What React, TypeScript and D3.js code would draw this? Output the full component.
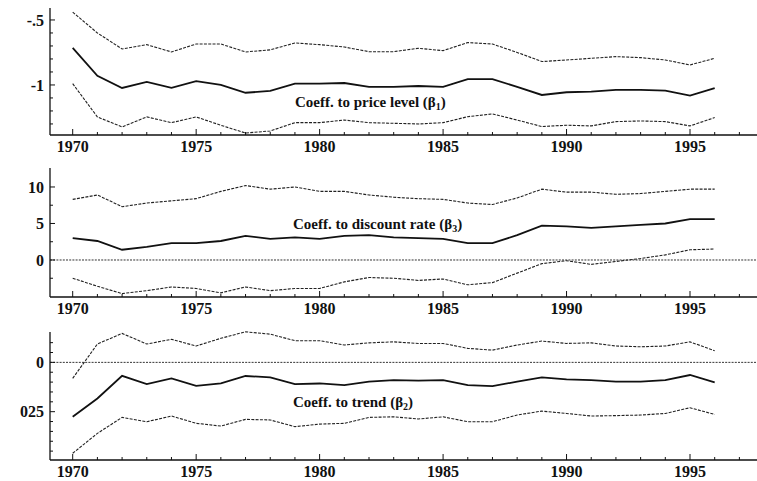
import React from "react";
import * as d3 from "d3";

const years = d3.range(1970, 1997);

const priceMid = [-0.715, -0.93, -1.023, -0.977, -1.023, -0.97, -1.0, -1.06, -1.046, -0.99, -0.99, -0.985, -1.015, -1.015, -1.008, -1.015, -0.955, -0.955, -1.015, -1.077, -1.056, -1.051, -1.038, -1.038, -1.044, -1.082, -1.025];
const priceUp = [-0.44, -0.6, -0.723, -0.69, -0.746, -0.685, -0.685, -0.746, -0.73, -0.677, -0.69, -0.708, -0.744, -0.744, -0.718, -0.736, -0.674, -0.685, -0.75, -0.82, -0.808, -0.795, -0.782, -0.79, -0.808, -0.846, -0.795];
const priceLo = [-0.99, -1.246, -1.323, -1.246, -1.29, -1.246, -1.31, -1.37, -1.354, -1.29, -1.29, -1.27, -1.29, -1.295, -1.3, -1.29, -1.244, -1.223, -1.27, -1.32, -1.31, -1.315, -1.282, -1.277, -1.282, -1.315, -1.251];

const discMid = [3.0, 2.6, 1.4, 1.8, 2.3, 2.3, 2.6, 3.3, 2.9, 3.1, 2.9, 3.3, 3.4, 3.1, 3.0, 2.9, 2.3, 2.3, 3.4, 4.7, 4.6, 4.4, 4.6, 4.8, 5.0, 5.6, 5.6];
const discUp = [8.3, 8.9, 7.3, 7.8, 8.1, 8.4, 9.4, 10.2, 9.7, 10.0, 9.4, 9.4, 8.9, 8.6, 8.4, 8.3, 7.8, 7.6, 8.5, 9.7, 9.3, 9.3, 9.0, 9.1, 9.4, 9.7, 9.7];
const discLo = [-2.5, -3.6, -4.6, -4.2, -3.7, -3.9, -4.5, -3.7, -4.2, -3.9, -3.9, -3.0, -2.4, -2.5, -2.8, -2.6, -3.4, -3.1, -1.8, -0.5, -0.1, -0.6, -0.2, 0.2, 0.7, 1.4, 1.5];

const trendMid = [-0.0276, -0.0183, -0.0068, -0.011, -0.0081, -0.0119, -0.0107, -0.0069, -0.0076, -0.011, -0.0107, -0.0115, -0.0098, -0.009, -0.0093, -0.009, -0.0115, -0.012, -0.0098, -0.0076, -0.0086, -0.009, -0.0098, -0.0098, -0.009, -0.0064, -0.0101];
const trendUp = [-0.0081, 0.0093, 0.0147, 0.0093, 0.0117, 0.0083, 0.0122, 0.0155, 0.0143, 0.011, 0.011, 0.0088, 0.0099, 0.0104, 0.0096, 0.0096, 0.0071, 0.0062, 0.0088, 0.0108, 0.0096, 0.0099, 0.0083, 0.0079, 0.0083, 0.0104, 0.0059];
const trendLo = [-0.0461, -0.036, -0.0279, -0.0301, -0.0272, -0.0309, -0.0323, -0.0289, -0.0292, -0.0326, -0.0313, -0.0309, -0.0279, -0.0276, -0.0287, -0.0276, -0.0301, -0.0301, -0.0267, -0.0247, -0.0259, -0.0272, -0.027, -0.0267, -0.0259, -0.023, -0.0264];

const xTickYears = d3.range(1970, 1998);
const xLabelYears = [1970, 1975, 1980, 1985, 1990, 1995];

const priceTicks = d3.range(-0.5, -1.35, -0.1);
const priceLabels = [{ v: -0.5, t: "-.5" }, { v: -1, t: "-1" }];
const discTicks = [-2.5, 0, 2.5, 5, 7.5, 10];
const discLabels = [{ v: 0, t: "0" }, { v: 5, t: "5" }, { v: 10, t: "10" }];
const trendTicks = d3.range(0.01, -0.0451, -0.005);
const trendLabels = [{ v: 0, t: "0" }, { v: -0.025, t: "025" }];

const FONT = "'Liberation Serif', 'Times New Roman', serif";

const x = d3.scaleLinear().domain([1970, 1995]).range([72.7, 690]);
const LEFT = 50;
const RIGHT = 757;

type PanelProps = {
  top: number;
  bottom: number;
  domain: [number, number];
  mid: number[];
  up: number[];
  lo: number[];
  yTicks: number[];
  yLabels: { v: number; t: string }[];
  zero: boolean;
  label: string;
  sub: string;
  labelX: number;
  labelY: number;
};

function Panel(p: PanelProps) {
  const y = d3.scaleLinear().domain(p.domain).range([p.bottom, p.top]);
  const line = (vals: number[]) =>
    d3.line<number>().x((_, i) => x(years[i])).y((d) => y(d))(vals) || "";
  return (
    <g>
      {p.zero && (
        <line x1={LEFT} x2={RIGHT} y1={y(0)} y2={y(0)} stroke="#333" strokeWidth={1} strokeDasharray="2,1.2" />
      )}
      <path d={line(p.up)} fill="none" stroke="#222" strokeWidth={1.1} strokeDasharray="3,1.3" />
      <path d={line(p.lo)} fill="none" stroke="#222" strokeWidth={1.1} strokeDasharray="3,1.3" />
      <path d={line(p.mid)} fill="none" stroke="#111" strokeWidth={1.8} />
      <line x1={LEFT} x2={LEFT} y1={p.top} y2={p.bottom} stroke="#111" strokeWidth={1.3} />
      <line x1={LEFT} x2={RIGHT} y1={p.bottom} y2={p.bottom} stroke="#111" strokeWidth={1.3} />
      {p.yTicks.map((v, i) => {
        const major = p.yLabels.some((l) => Math.abs(l.v - v) < 1e-9);
        return <line key={i} x1={LEFT} x2={LEFT + (major ? 5 : 3)} y1={y(v)} y2={y(v)} stroke="#111" strokeWidth={1} />;
      })}
      {p.yLabels.map((l, i) => (
        <text key={i} x={44} y={y(l.v)} dy="0.35em" textAnchor="end" fontFamily={FONT} fontSize={16} fontWeight="bold" fill="#111">
          {l.t}
        </text>
      ))}
      {xTickYears.map((yr) => {
        const major = yr % 5 === 0;
        return <line key={yr} x1={x(yr)} x2={x(yr)} y1={p.bottom} y2={p.bottom - (major ? 6 : 3)} stroke="#111" strokeWidth={1} />;
      })}
      {xLabelYears.map((yr) => (
        <text key={yr} x={x(yr)} y={p.bottom + 17} textAnchor="middle" fontFamily={FONT} fontSize={16} fontWeight="bold" fill="#111">
          {yr}
        </text>
      ))}
      <text x={p.labelX} y={p.labelY} fontFamily={FONT} fontSize={15} fontWeight="bold" fill="#111">
        {p.label}
        <tspan>(β</tspan>
        <tspan fontSize={10} dy={3}>{p.sub}</tspan>
        <tspan dy={-3}>)</tspan>
      </text>
    </g>
  );
}

export default function App() {
  return (
    <div style={{ position: "absolute", left: 0, top: 0 }}>
      <svg width={757} height={481} style={{ display: "block", background: "#fff" }}>
        <Panel top={8} bottom={135} domain={[-1.385, -0.408]} mid={priceMid} up={priceUp} lo={priceLo}
          yTicks={priceTicks} yLabels={priceLabels} zero={false}
          label="Coeff. to price level " sub="1" labelX={295} labelY={107} />
        <Panel top={168} bottom={297} domain={[-5.07, 12.6]} mid={discMid} up={discUp} lo={discLo}
          yTicks={discTicks} yLabels={discLabels} zero={true}
          label="Coeff. to discount rate " sub="3" labelX={293} labelY={229} />
        <Panel top={332} bottom={460} domain={[-0.0495, 0.0154]} mid={trendMid} up={trendUp} lo={trendLo}
          yTicks={trendTicks} yLabels={trendLabels} zero={true}
          label="Coeff. to trend " sub="2" labelX={293} labelY={407} />
      </svg>
    </div>
  );
}
